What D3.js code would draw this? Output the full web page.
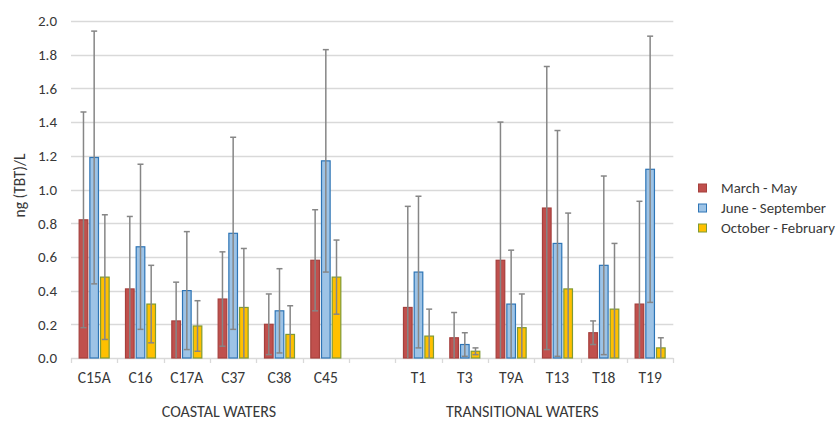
<!DOCTYPE html>
<html>
<head>
<meta charset="utf-8">
<script src="https://cdn.jsdelivr.net/npm/d3@7"></script>
<style>
  html, body { margin: 0; padding: 0; background: #fff; }
  svg { display: block; font-family: Carlito, Calibri, Lato, sans-serif; }
</style>
</head>
<body>
<svg id="chart" width="836" height="421"></svg>
<script>
// Sampling stations, grouped by water body; a blank slot separates the groups
const coastalStations = ["C15A", "C16", "C17A", "C37", "C38", "C45"];
const transitionalStations = ["T1", "T3", "T9A", "T13", "T18", "T19"];
const spacer = " ";
const stations = [...coastalStations, ...transitionalStations];

// Seasonal mean TBT concentration, ng/L
const seasons = ["March - May", "June - September", "October - February"];
const marchMay = [0.82, 0.41, 0.22, 0.35, 0.20, 0.58, 0.30, 0.12, 0.58, 0.89, 0.15, 0.32];
const juneSeptember = [1.19, 0.66, 0.40, 0.74, 0.28, 1.17, 0.51, 0.08, 0.32, 0.68, 0.55, 1.12];
const octoberFebruary = [0.48, 0.32, 0.19, 0.30, 0.14, 0.48, 0.13, 0.04, 0.18, 0.41, 0.29, 0.06];

// Standard deviations (symmetric error bars)
const marchMaySd = [0.64, 0.43, 0.23, 0.28, 0.18, 0.30, 0.60, 0.15, 0.82, 0.84, 0.07, 0.61];
const juneSeptemberSd = [0.75, 0.49, 0.35, 0.57, 0.25, 0.66, 0.45, 0.07, 0.32, 0.67, 0.53, 0.79];
const octoberFebruarySd = [0.37, 0.23, 0.15, 0.35, 0.17, 0.22, 0.16, 0.02, 0.20, 0.45, 0.39, 0.06];

const yTicks = [0, 0.2, 0.4, 0.6, 0.8, 1.0, 1.2, 1.4, 1.6, 1.8, 2.0];
const groupLabels = ["COASTAL WATERS", "TRANSITIONAL WATERS"];

const seriesValues = [marchMay, juneSeptember, octoberFebruary];
const seriesSd = [marchMaySd, juneSeptemberSd, octoberFebruarySd];
const fills = ["#C0504D", "#9DC3E6", "#FFC000"];
const strokes = ["#A5403D", "#2E75B6", "#7F9A34"];

const svg = d3.select("#chart");
const textColor = "#383838";
const fontStack = "Carlito, Calibri, Lato, sans-serif";

const slots = [...coastalStations, spacer, ...transitionalStations];
const x = d3.scaleBand().domain(slots).range([71, 673.3]).padding(0);
const groupWidth = 31;
const xs = d3.scaleBand().domain(seasons)
  .range([(x.bandwidth() - groupWidth) / 2, (x.bandwidth() + groupWidth) / 2])
  .paddingInner(0.1);
const y = d3.scaleLinear().domain([0, 2]).range([358, 21]);

// Horizontal gridlines
svg.append("g")
  .selectAll("line")
  .data(yTicks.slice(1))
  .join("line")
  .attr("x1", 71).attr("x2", 673.3)
  .attr("y1", d => Math.round(y(d)) + 0.5).attr("y2", d => Math.round(y(d)) + 0.5)
  .attr("stroke", "#d9d9d9").attr("stroke-width", 1.3);

// Y axis labels
const yAxis = d3.axisLeft(y).tickValues(yTicks).tickFormat(d3.format(".1f")).tickSize(0).tickPadding(14);
svg.append("g")
  .attr("transform", "translate(71,0)")
  .call(yAxis)
  .call(g => g.select(".domain").remove())
  .call(g => g.selectAll("text")
    .attr("fill", textColor)
    .style("font-family", fontStack)
    .style("font-size", "15px"));

// X axis baseline with slot-boundary ticks
const xAxis = d3.axisBottom(x).tickSize(0).tickFormat(d => d.trim());
svg.append("g")
  .attr("transform", `translate(0,${y(0)})`)
  .call(xAxis)
  .call(g => g.select(".domain").attr("stroke", "#d9d9d9").attr("stroke-width", 1.3).attr("d", `M71,0.5H673.3`))
  .call(g => g.selectAll("text")
    .attr("y", 20)
    .attr("dy", "0.32em")
    .attr("fill", textColor)
    .style("font-family", fontStack)
    .style("font-size", "15.5px"));

svg.append("g")
  .selectAll("line")
  .data(slots.map(s => x(s)).concat([x(slots[slots.length - 1]) + x.bandwidth()]))
  .join("line")
  .attr("x1", d => Math.round(d) + 0.5).attr("x2", d => Math.round(d) + 0.5)
  .attr("y1", y(0)).attr("y2", y(0) + 5)
  .attr("stroke", "#d9d9d9").attr("stroke-width", 1.3);

// Bars
const barLayer = svg.append("g");
seasons.forEach((season, si) => {
  barLayer.append("g")
    .selectAll("rect")
    .data(stations.map((s, i) => ({ station: s, value: seriesValues[si][i] })))
    .join("rect")
    .attr("x", d => x(d.station) + xs(season) + 0.5)
    .attr("y", d => y(d.value))
    .attr("width", xs.bandwidth() - 1)
    .attr("height", d => y(0) - y(d.value))
    .attr("fill", fills[si])
    .attr("stroke", strokes[si])
    .attr("stroke-width", 1.2);
});

// Error bars (mean ± SD, clipped at zero)
const errLayer = svg.append("g").attr("stroke", "#868686").attr("stroke-width", 1.5).attr("fill", "none");
seasons.forEach((season, si) => {
  stations.forEach((s, i) => {
    const v = seriesValues[si][i];
    const sd = seriesSd[si][i];
    const cx = x(s) + xs(season) + xs.bandwidth() / 2;
    const lo = Math.max(0, v - sd);
    const hi = v + sd;
    errLayer.append("line")
      .attr("x1", cx).attr("x2", cx)
      .attr("y1", y(lo)).attr("y2", y(hi));
    errLayer.append("line")
      .attr("x1", cx - 3).attr("x2", cx + 3)
      .attr("y1", y(hi)).attr("y2", y(hi));
    if (v - sd > 0) {
      errLayer.append("line")
        .attr("x1", cx - 3).attr("x2", cx + 3)
        .attr("y1", y(lo)).attr("y2", y(lo));
    }
  });
});

// Y axis title
svg.append("text")
  .attr("transform", `translate(20,${(y(0) + y(2)) / 2 - 4}) rotate(-90)`)
  .attr("text-anchor", "middle")
  .attr("dy", "0.35em")
  .attr("fill", textColor)
  .style("font-size", "15.5px")
  .text("ng (TBT)/L");

// Group titles beneath the station labels
const groupCenters = [
  (x(coastalStations[0]) + x(coastalStations[coastalStations.length - 1]) + x.bandwidth()) / 2 + 9,
  (x(transitionalStations[0]) + x(transitionalStations[transitionalStations.length - 1]) + x.bandwidth()) / 2 - 12
];
svg.append("g")
  .selectAll("text")
  .data(groupLabels)
  .join("text")
  .attr("x", (d, i) => groupCenters[i])
  .attr("y", 411)
  .attr("dy", "0.35em")
  .attr("text-anchor", "middle")
  .attr("fill", textColor)
  .style("font-size", "16px")
  .text(d => d);

// Legend
const legend = svg.append("g").attr("transform", "translate(698,188)");
const items = legend.selectAll("g")
  .data(seasons)
  .join("g")
  .attr("transform", (d, i) => `translate(0,${i * 20})`);
items.append("rect")
  .attr("x", 0.5).attr("y", -4).attr("width", 8).attr("height", 8)
  .attr("fill", (d, i) => fills[i])
  .attr("stroke", (d, i) => strokes[i])
  .attr("stroke-width", 1);
items.append("text")
  .attr("x", 23).attr("y", 0)
  .attr("dy", "0.35em")
  .attr("fill", textColor)
  .style("font-size", "14.8px")
  .text(d => d);
</script>
</body>
</html>
